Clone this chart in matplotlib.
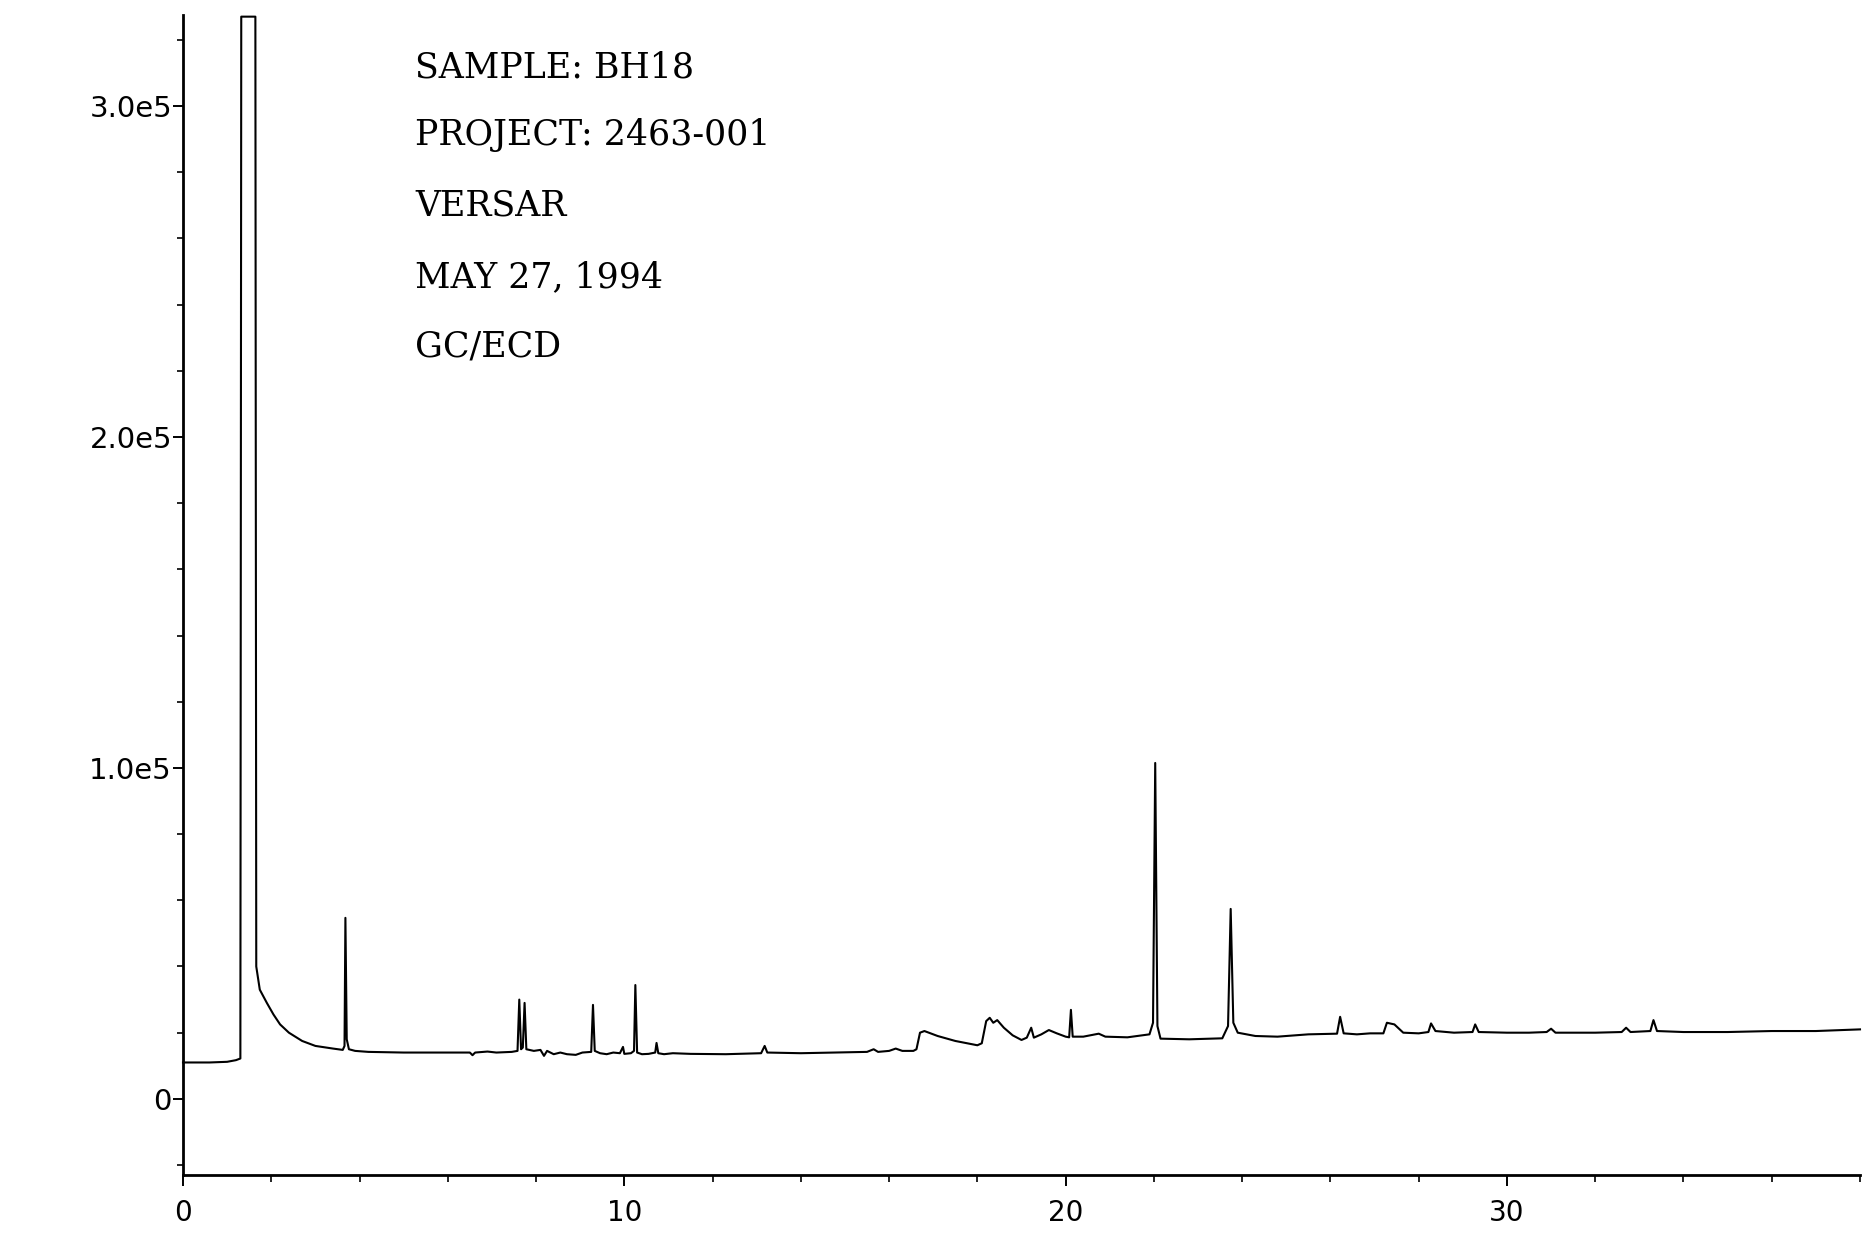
import matplotlib
matplotlib.use("Agg")
from matplotlib import pyplot as plt
from matplotlib.ticker import FixedLocator, MultipleLocator

# retention time (min) and detector response
times = [
    0.00, 0.60, 1.00, 1.20, 1.30, 1.32, 1.64, 1.66, 1.74, 1.90,
    2.05, 2.20, 2.40, 2.70, 3.00, 3.40, 3.62, 3.66, 3.68, 3.71,
    3.76, 3.90, 4.20, 5.00, 6.00, 6.50, 6.56, 6.62, 6.90, 7.10,
    7.45, 7.58, 7.62, 7.66, 7.70, 7.74, 7.78, 7.95, 8.10, 8.18,
    8.25, 8.40, 8.55, 8.70, 8.90, 9.05, 9.25, 9.29, 9.33, 9.45,
    9.60, 9.75, 9.90, 9.97, 10.00, 10.15, 10.22, 10.25, 10.29, 10.40,
    10.55, 10.70, 10.73, 10.77, 10.90, 11.10, 11.50, 12.30, 13.10, 13.18,
    13.24, 14.00, 14.80, 15.50, 15.65, 15.75, 16.00, 16.15, 16.30, 16.55,
    16.62, 16.70, 16.80, 17.10, 17.50, 18.00, 18.10, 18.20, 18.28, 18.36,
    18.45, 18.60, 18.80, 19.00, 19.12, 19.22, 19.28, 19.45, 19.62, 19.80,
    20.00, 20.08, 20.12, 20.16, 20.40, 20.75, 20.90, 21.40, 21.90, 21.98,
    22.03, 22.08, 22.15, 22.80, 23.55, 23.68, 23.74, 23.80, 23.90, 24.30,
    24.80, 25.50, 26.15, 26.22, 26.30, 26.60, 26.90, 27.20, 27.28, 27.45,
    27.65, 28.00, 28.22, 28.28, 28.38, 28.80, 29.22, 29.28, 29.36, 30.00,
    30.50, 30.90, 31.00, 31.10, 32.00, 32.60, 32.70, 32.80, 33.25, 33.32,
    33.40, 34.00, 35.00, 36.00, 37.00, 38.00,
]
response = [
    1.10e4, 1.10e4, 1.12e4, 1.17e4, 1.22e4, 3.27e5, 3.27e5, 4.0e4, 3.3e4, 2.9e4,
    2.55e4, 2.25e4, 2.0e4, 1.75e4, 1.6e4, 1.52e4, 1.48e4, 1.6e4, 5.47e4, 1.8e4,
    1.5e4, 1.45e4, 1.42e4, 1.4e4, 1.4e4, 1.4e4, 1.32e4, 1.4e4, 1.43e4, 1.4e4,
    1.42e4, 1.45e4, 3.0e4, 1.5e4, 1.55e4, 2.9e4, 1.5e4, 1.45e4, 1.48e4, 1.3e4,
    1.45e4, 1.35e4, 1.4e4, 1.35e4, 1.33e4, 1.4e4, 1.42e4, 2.84e4, 1.45e4, 1.38e4,
    1.35e4, 1.4e4, 1.38e4, 1.57e4, 1.36e4, 1.38e4, 1.45e4, 3.44e4, 1.4e4, 1.35e4,
    1.36e4, 1.4e4, 1.69e4, 1.38e4, 1.35e4, 1.38e4, 1.36e4, 1.35e4, 1.38e4, 1.6e4,
    1.4e4, 1.38e4, 1.4e4, 1.42e4, 1.5e4, 1.42e4, 1.45e4, 1.52e4, 1.45e4, 1.45e4,
    1.5e4, 2.0e4, 2.05e4, 1.9e4, 1.75e4, 1.62e4, 1.68e4, 2.35e4, 2.45e4, 2.3e4,
    2.38e4, 2.15e4, 1.92e4, 1.78e4, 1.85e4, 2.15e4, 1.85e4, 1.95e4, 2.08e4, 1.98e4,
    1.88e4, 1.86e4, 2.69e4, 1.88e4, 1.88e4, 1.97e4, 1.88e4, 1.86e4, 1.95e4, 2.3e4,
    1.015e5, 2.2e4, 1.82e4, 1.8e4, 1.83e4, 2.2e4, 5.74e4, 2.3e4, 2.0e4, 1.9e4,
    1.88e4, 1.95e4, 1.97e4, 2.48e4, 1.98e4, 1.95e4, 1.98e4, 1.98e4, 2.3e4, 2.25e4,
    2.0e4, 1.98e4, 2.02e4, 2.28e4, 2.05e4, 2.0e4, 2.02e4, 2.25e4, 2.02e4, 2.0e4,
    2.0e4, 2.02e4, 2.12e4, 2.0e4, 2.0e4, 2.02e4, 2.15e4, 2.02e4, 2.05e4, 2.38e4,
    2.05e4, 2.02e4, 2.02e4, 2.05e4, 2.05e4, 2.1e4,
]

x_ticks = [0, 10, 20, 30]
x_tick_labels = ["0", "10", "20", "30"]
y_ticks = [0, 1.0e5, 2.0e5, 3.0e5]
y_tick_labels = ["0", "1.0e5", "2.0e5", "3.0e5"]

header_lines = ["SAMPLE: BH18", "PROJECT: 2463-001", "VERSAR", "MAY 27, 1994", "GC/ECD"]

W, H = 1870, 1233
fig = plt.figure(figsize=(W / 100, H / 100), dpi=100)
ax = fig.add_axes([183 / W, 1 - 1175 / H, (1860 - 183) / W, 1160 / H])

ax.plot(times, response, color="black", linewidth=1.5, solid_joinstyle="round", clip_on=False)

ax.set_xlim(0, 38)
ax.set_ylim(-2.3e4, 3.275e5)

ax.spines["top"].set_visible(False)
ax.spines["right"].set_visible(False)
ax.spines["left"].set_linewidth(2.0)
ax.spines["bottom"].set_linewidth(2.0)

ax.xaxis.set_major_locator(FixedLocator(x_ticks))
ax.set_xticklabels(x_tick_labels)
ax.xaxis.set_minor_locator(MultipleLocator(2))
ax.yaxis.set_major_locator(FixedLocator(y_ticks))
ax.set_yticklabels(y_tick_labels)
ax.yaxis.set_minor_locator(MultipleLocator(2e4))

ax.tick_params(axis="x", which="major", direction="out", length=8, width=1.4, pad=9, labelsize=20)
ax.tick_params(axis="x", which="minor", direction="out", length=5, width=1.2)
ax.tick_params(axis="y", which="major", direction="out", length=7, width=1.4, pad=1, labelsize=21)
ax.tick_params(axis="y", which="minor", direction="out", length=4, width=1.2)
for lab in ax.get_xticklabels() + ax.get_yticklabels():
    lab.set_family("DejaVu Sans")

# header block in the upper left of the plot
header_y = [68, 135, 205, 277, 346]
for line, py in zip(header_lines, header_y):
    fig.text(415 / W, 1 - py / H, line, ha="left", va="center",
             fontsize=25, family="DejaVu Serif", color="black")

plt.savefig("out.png", dpi=100)
